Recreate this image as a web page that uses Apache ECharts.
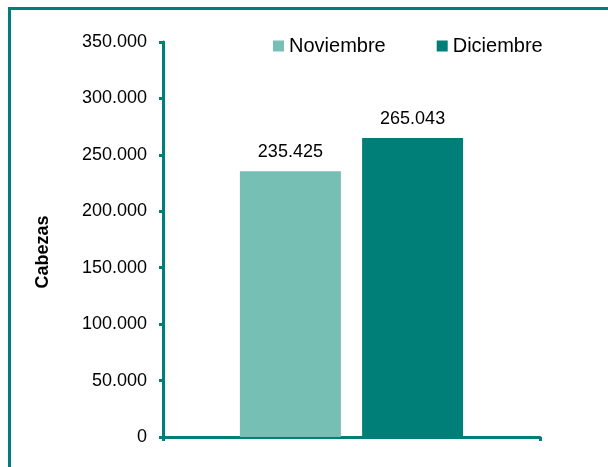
<!DOCTYPE html>
<html>
<head>
<meta charset="utf-8">
<script src="https://cdn.jsdelivr.net/npm/echarts@6/dist/echarts.min.js"></script>
<style>
html,body{margin:0;padding:0;background:#fff;}
#c{width:608px;height:467px;}
</style>
</head>
<body>
<div id="c"></div>
<script>
const categories = [''];
const seriesNames = ['Noviembre', 'Diciembre'];
const noviembre = [235425];
const diciembre = [265043];
const yTicks = [0, 50000, 100000, 150000, 200000, 250000, 300000, 350000];

function fmt(v) {
  return String(Math.round(v)).replace(/\B(?=(\d{3})+(?!\d))/g, '.');
}

const FONT = 'Liberation Sans';
const TEAL = '#007F79';
const LIGHT = '#75BFB4';

const chart = echarts.init(document.getElementById('c'), null, {renderer: 'canvas'});
chart.setOption({
  animation: false,
  backgroundColor: '#fff',
  textStyle: {fontFamily: FONT},
  graphic: [
    {type: 'rect', shape: {x: 9.5, y: 8.5, width: 800, height: 600},
     style: {fill: 'none', stroke: TEAL, lineWidth: 3}, silent: true},
    {type: 'text', x: 43, y: 252, rotation: Math.PI / 2,
     style: {text: 'Cabezas', fontFamily: FONT, fontWeight: 'bold', fontSize: 18, fill: '#000',
             align: 'center', verticalAlign: 'middle'}}
  ],
  legend: {
    data: seriesNames,
    left: 273, top: 36, padding: 0,
    itemWidth: 11, itemHeight: 11, itemGap: 51,
    icon: 'rect',
    textStyle: {fontSize: 20, color: '#000', fontFamily: FONT}
  },
  grid: {left: 163, right: 68, top: 42, bottom: 30, containLabel: false},
  xAxis: {
    type: 'category',
    data: categories,
    boundaryGap: true,
    axisLine: {lineStyle: {color: TEAL, width: 3}},
    axisTick: {show: true, length: 4, lineStyle: {color: TEAL, width: 3}},
    axisLabel: {show: false}
  },
  yAxis: {
    type: 'value',
    min: yTicks[0], max: yTicks[yTicks.length - 1], interval: yTicks[1] - yTicks[0],
    axisLine: {show: true, lineStyle: {color: TEAL, width: 3}},
    axisTick: {show: true, length: 4, lineStyle: {color: TEAL, width: 3}},
    splitLine: {show: false},
    axisLabel: {fontSize: 18, color: '#000', margin: 16, fontFamily: FONT, formatter: v => fmt(v)}
  },
  series: [
    {name: seriesNames[0], type: 'bar', data: noviembre, barWidth: 101, barGap: '21%',
     itemStyle: {color: LIGHT},
     label: {show: true, position: 'top', distance: 10, fontSize: 18, color: '#000', fontFamily: FONT, formatter: p => fmt(p.value)}},
    {name: seriesNames[1], type: 'bar', data: diciembre, barWidth: 101,
     itemStyle: {color: TEAL},
     label: {show: true, position: 'top', distance: 10, fontSize: 18, color: '#000', fontFamily: FONT, formatter: p => fmt(p.value)}}
  ]
});
</script>
</body>
</html>
